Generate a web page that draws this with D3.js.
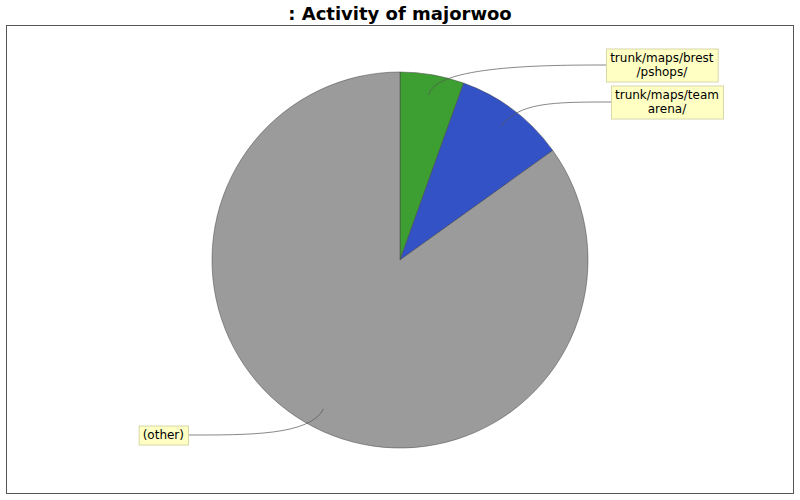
<!DOCTYPE html>
<html><head><meta charset="utf-8">
<script src="https://cdn.jsdelivr.net/npm/d3@7"></script>
<style>body{margin:0;background:#fff}</style>
</head><body>
<svg width="800" height="500"></svg>
<script>
// slice data
var labels = [["trunk/maps/brest", "/pshops/"], ["trunk/maps/team", "arena/"], ["(other)"]];
var values = [5.5, 9.6, 84.9];
var colors = ["#3d9f32", "#3352c6", "#9b9b9b"];

var cx = 400, cy = 260, r = 188;
var svg = d3.select("svg");
var font = "DejaVu Sans, sans-serif";

svg.append("text").attr("x", 400).attr("y", 20).attr("text-anchor", "middle")
  .attr("font-family", font).attr("font-weight", "bold").attr("font-size", 18)
  .text(": Activity of majorwoo");

svg.append("rect").attr("x", 6.5).attr("y", 25.5).attr("width", 787).attr("height", 468)
  .attr("fill", "white").attr("stroke", "#555");

var pie = d3.pie().sort(null).value(function(d){ return d; });
var arcs = pie(values);
var arc = d3.arc().innerRadius(0).outerRadius(r);

var g = svg.append("g").attr("transform", "translate(" + cx + "," + cy + ")");
g.selectAll("path").data(arcs).enter().append("path")
  .attr("d", arc)
  .attr("fill", function(d, i){ return colors[i]; })
  .attr("stroke", "#444").attr("stroke-width", 0.5);

// label box placement (left edge x / right edge x, centre y)
var labelPos = [{x: 606, y: 65, side: "right"}, {x: 611, y: 102, side: "right"}, {x: 188, y: 435, side: "left"}];

arcs.forEach(function(d, i){
  var a = (d.startAngle + d.endAngle) / 2;
  var ax = cx + Math.sin(a) * r * 0.89, ay = cy - Math.cos(a) * r * 0.89;
  var c1x = cx + Math.sin(a) * r * 1.05, c1y = cy - Math.cos(a) * r * 1.05;
  var p = labelPos[i];
  var dir = p.side === "right" ? -1 : 1;
  var c2x = p.x + dir * 60;
  svg.append("path")
    .attr("d", "M" + ax + "," + ay + " C" + c1x + "," + c1y + " " + c2x + "," + p.y + " " + p.x + "," + p.y)
    .attr("fill", "none").attr("stroke", "#555").attr("stroke-width", 0.7);

  var lines = labels[i];
  var lg = svg.append("g");
  var txt = lg.append("text").attr("font-family", font).attr("font-size", 12).attr("text-anchor", "middle");
  lines.forEach(function(l, k){
    txt.append("tspan").attr("x", 0).attr("dy", k === 0 ? 0 : 14).text(l);
  });
  var bb = txt.node().getBBox();
  var w = bb.width + 8, h = lines.length * 14 + 5;
  var left = p.side === "right" ? p.x : p.x - w;
  var top = p.y - h / 2;
  lg.insert("rect", "text").attr("x", left + 0.5).attr("y", top + 0.5).attr("width", w).attr("height", h)
    .attr("fill", "#ffffc4").attr("stroke", "#d8d8a8");
  txt.attr("transform", "translate(" + (left + w / 2) + "," + (top + 13) + ")");
});
</script>
</body></html>
